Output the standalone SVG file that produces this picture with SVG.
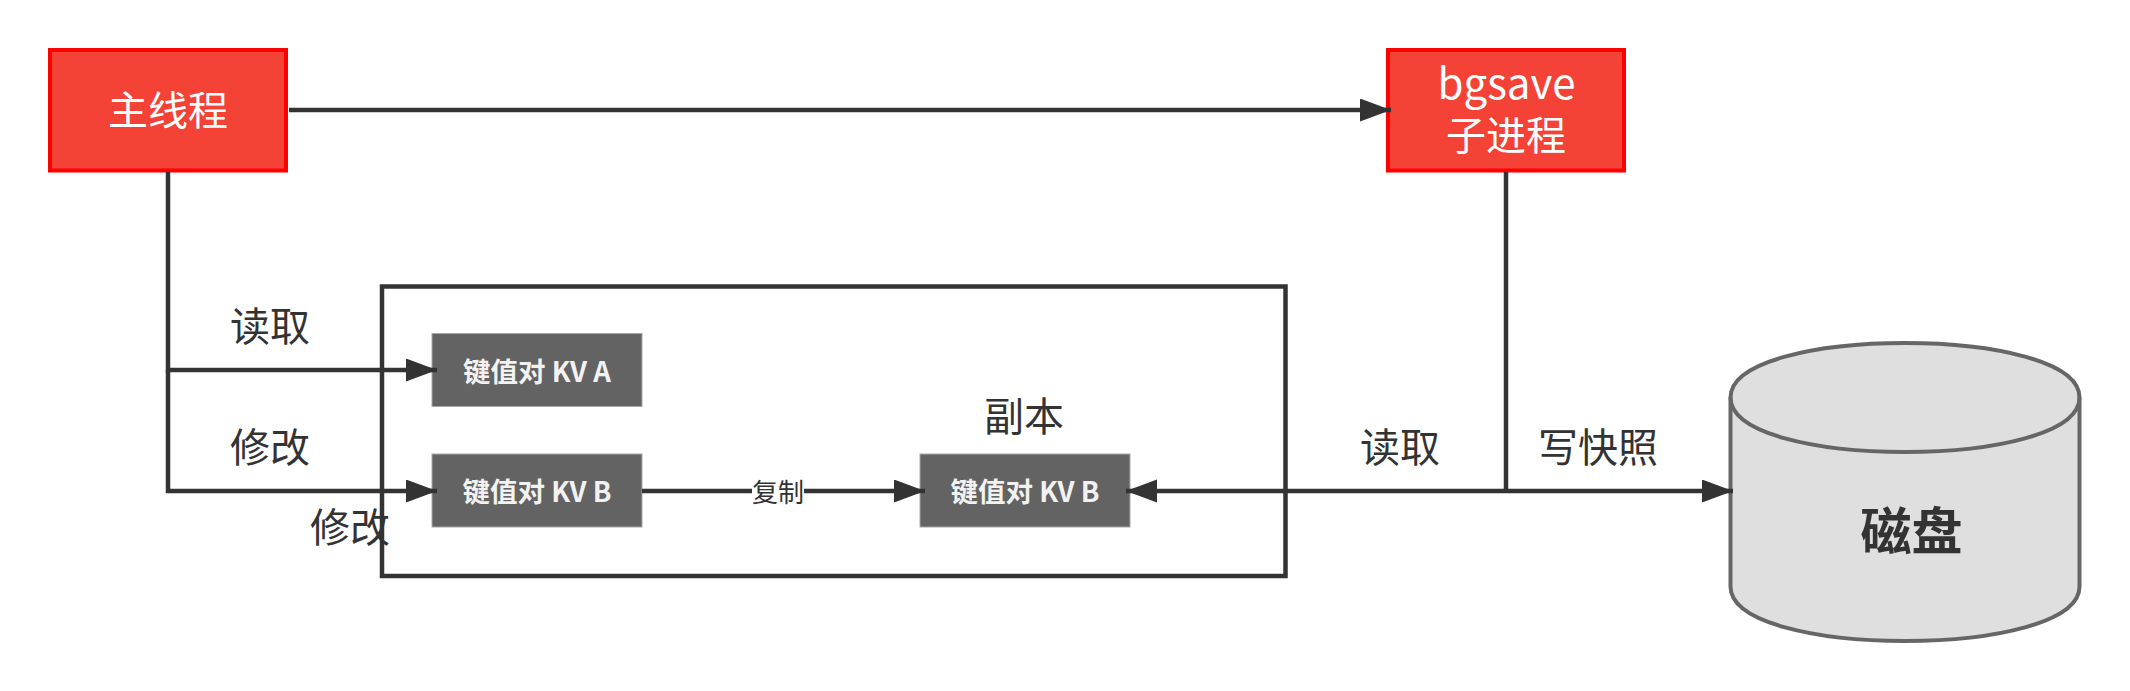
<svg xmlns="http://www.w3.org/2000/svg" width="2130" height="691" viewBox="0 0 2130 691">
<style>
text{font-family:"Noto Sans CJK SC","Noto Sans",sans-serif;text-anchor:middle}
.red{fill:#f44336;stroke:#ff0000;stroke-width:4}
.redt{fill:#fff;font-size:40px}
.redw{fill:#fff;font-size:42px}
.kv{fill:#636363;stroke:#a8a8a8;stroke-width:1}
.kvt{fill:#f2f2f2;font-size:27.500px;font-weight:700}
.lbl{fill:#333;font-size:40px}
.ln{fill:none;stroke:#333;stroke-width:4.500}
.head{fill:#333}
</style>
<defs>
<marker id="arrow" markerUnits="userSpaceOnUse" markerWidth="32" markerHeight="24" refX="31" refY="11.500" orient="auto"><path class="head" d="M0 0L31 11.500L0 23Z"/></marker>
</defs>
<rect width="2130" height="691" fill="#fff"/>
<g id="copy-frame"><rect x="382" y="286.500" width="903.500" height="289.500" class="ln"/></g>
<g id="main-thread"><rect x="50" y="50" width="236" height="120.500" class="red"/><text x="168" y="125" class="redt">主线程</text></g>
<g id="child-process"><rect x="1388" y="50" width="236" height="120.500" class="red"/><text x="1506.500" y="99" class="redw">bgsave</text><text x="1506" y="150" class="redt">子进程</text></g>
<g id="kv-a"><rect x="432" y="333.500" width="210" height="73" class="kv"/><text x="537" y="382" class="kvt">键值对 KV A</text></g>
<g id="kv-b"><rect x="432" y="454" width="210" height="73" class="kv"/><text x="537" y="502" class="kvt">键值对 KV B</text></g>
<g id="kv-b-copy"><rect x="920" y="454" width="210" height="73" class="kv"/><text x="1025" y="502" class="kvt">键值对 KV B</text></g>
<g id="disk"><path d="M1730.500 397.500C1730.500 324.800 2079.500 324.800 2079.500 397.500V586.500C2079.500 659.200 1730.500 659.200 1730.500 586.500Z" fill="#dfdfdf" stroke="#666" stroke-width="4"/><path d="M1730.500 397.500C1730.500 470.200 2079.500 470.200 2079.500 397.500" fill="none" stroke="#666" stroke-width="4"/><text x="1911.500" y="550" fill="#333" font-size="51" font-weight="700">磁盘</text></g>
<g id="connectors">
<path class="ln" d="M289 110H1391" marker-end="url(#arrow)"/>
<path class="ln" d="M168 172V370H437" marker-end="url(#arrow)"/>
<path class="ln" d="M168 370V491H437" marker-end="url(#arrow)"/>
<path class="ln" d="M642 491H925" marker-end="url(#arrow)"/>
<path class="ln" d="M1506 172V491"/>
<path class="ln" d="M1506 491H1126" marker-end="url(#arrow)"/>
<path class="ln" d="M1506 491H1733" marker-end="url(#arrow)"/>
</g>
<g id="labels">
<rect x="752" y="475" width="52" height="32" fill="#fff"/>
<text x="778" y="502" fill="#333" font-size="26">复制</text>
<text x="270" y="341" class="lbl">读取</text>
<text x="270" y="462" class="lbl">修改</text>
<text x="350" y="542" class="lbl">修改</text>
<text x="1024" y="431" class="lbl">副本</text>
<text x="1400" y="462" class="lbl">读取</text>
<text x="1598" y="462" class="lbl">写快照</text>
</g>
</svg>
